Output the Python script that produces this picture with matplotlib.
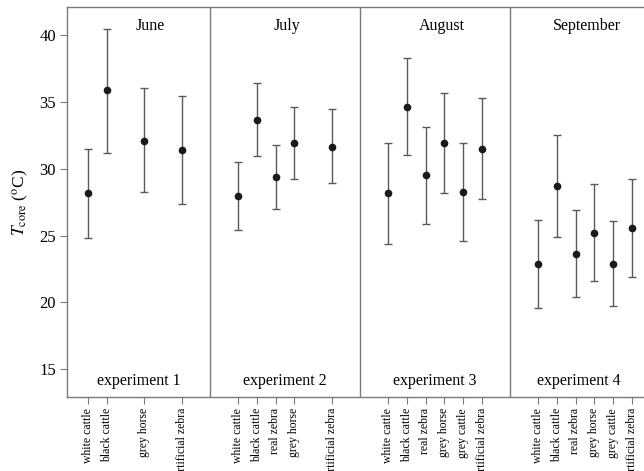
import matplotlib
matplotlib.use('Agg')
import matplotlib.pyplot as plt

plt.rcParams['font.family'] = ['Liberation Serif', 'DejaVu Serif']
plt.rcParams['mathtext.fontset'] = 'stix'

#Common slot order for every experiment (gaps where a model was not used)
slots = ['white cattle', 'black cattle', 'real zebra', 'grey horse', 'grey cattle', 'artificial zebra']
months = ['June', 'July', 'August', 'September']
experiments = ['experiment 1', 'experiment 2', 'experiment 3', 'experiment 4']

#Models used in each experiment
exp1_models = ['white cattle', 'black cattle', 'grey horse', 'artificial zebra']
exp2_models = ['white cattle', 'black cattle', 'real zebra', 'grey horse', 'artificial zebra']
exp3_models = ['white cattle', 'black cattle', 'real zebra', 'grey horse', 'grey cattle', 'artificial zebra']
exp4_models = ['white cattle', 'black cattle', 'real zebra', 'grey horse', 'grey cattle', 'artificial zebra']

#Mean core temperature and lower / upper ends of the bars (deg C)
exp1_mean = [28.15, 35.85, 32.1, 31.4]
exp1_low = [24.85, 31.2, 28.25, 27.35]
exp1_high = [31.45, 40.45, 36.0, 35.45]

exp2_mean = [27.95, 33.65, 29.35, 31.95, 31.65]
exp2_low = [25.4, 30.95, 26.95, 29.2, 28.9]
exp2_high = [30.5, 36.4, 31.75, 34.65, 34.45]

exp3_mean = [28.15, 34.65, 29.5, 31.9, 28.25, 31.5]
exp3_low = [24.35, 31.0, 25.85, 28.15, 24.6, 27.7]
exp3_high = [31.95, 38.3, 33.1, 35.65, 31.9, 35.25]

exp4_mean = [22.9, 28.7, 23.6, 25.2, 22.9, 25.55]
exp4_low = [19.6, 24.9, 20.4, 21.6, 19.75, 21.9]
exp4_high = [26.2, 32.5, 26.9, 28.85, 26.1, 29.2]

groups = [
    (exp1_models, exp1_mean, exp1_low, exp1_high),
    (exp2_models, exp2_mean, exp2_low, exp2_high),
    (exp3_models, exp3_mean, exp3_low, exp3_high),
    (exp4_models, exp4_mean, exp4_low, exp4_high),
]

fig = plt.figure(figsize=(6.44, 4.71), dpi=100)
ax = fig.add_axes([67 / 644, 74 / 471, 621 / 644, 390 / 471])

spine_col = '#7a7a7a'
tick_pos = []
tick_lab = []
for g, (models, mean, low, high) in enumerate(groups):
    x = [g * 8 + slots.index(m) + 1 for m in models]
    yerr = [[m - l for m, l in zip(mean, low)], [h - m for m, h in zip(mean, high)]]
    ax.errorbar(x, mean, yerr=yerr, fmt='o', color='#1a1a1a', markersize=4.5,
                ecolor='#5a5a5a', elinewidth=1.0, capsize=3, capthick=1.0)
    tick_pos += x
    tick_lab += models
    if g > 0:
        ax.axvline(g * 8 - 0.5, color=spine_col, linewidth=1.0)

#Month names at top and experiment names at bottom
month_x = [4.3, 11.6, 19.85, 27.6]
exp_x = [3.7, 11.5, 19.5, 27.2]
for i in range(4):
    ax.text(month_x[i], 40.7, months[i], ha='center', va='center', fontsize=11.5)
    ax.text(exp_x[i], 14.15, experiments[i], ha='center', va='center', fontsize=11.5)

ax.set_xlim(-0.12, 33)
ax.set_ylim(12.93, 42.09)
ax.set_yticks([15, 20, 25, 30, 35, 40])
ax.set_xticks(tick_pos)
ax.set_xticklabels(tick_lab, rotation=90, fontsize=8.5)
ax.tick_params(axis='y', labelsize=12, direction='out', length=5, color=spine_col, pad=3)
ax.tick_params(axis='x', direction='out', length=5, color=spine_col, pad=3)
for s in ax.spines.values():
    s.set_color(spine_col)
    s.set_linewidth(1.0)
ax.set_ylabel(r'$T_{\mathrm{core}}$ ($^{\mathrm{o}}$C)', fontsize=12.5, labelpad=6)

fig.savefig('out.png', dpi=100)
